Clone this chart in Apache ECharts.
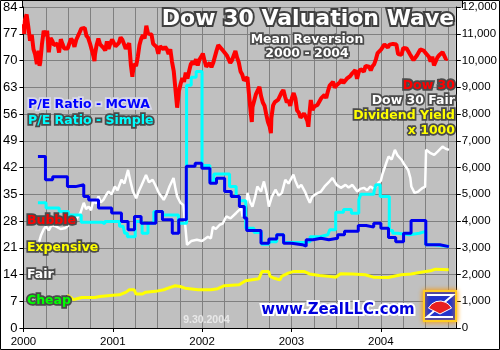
<!DOCTYPE html>
<html><head><meta charset="utf-8">
<script src="https://cdn.jsdelivr.net/npm/echarts@6/dist/echarts.min.js"></script>
<style>html,body{margin:0;padding:0;background:#fff}#c{width:500px;height:350px}</style>
</head><body><div id="c"></div>
<script>
// ---------- DATA ----------
const leftTicks = {min: 0, max: 84, step: 7};
const rightTicks = {min: 0, max: 12000, step: 1000};
const yearLabels = [2000, 2001, 2002, 2003, 2004];

// Dow 30 (weekly closes, read / estimated)
const dow30 = [
['2000-01-03',11357],['2000-01-04',10997],['2000-01-07',11522],['2000-01-14',11723],['2000-01-21',11251],['2000-01-28',10739],
['2000-02-04',10963],['2000-02-11',10425],['2000-02-18',10219],['2000-02-25',9862],
['2000-03-03',10367],['2000-03-07',9796],['2000-03-10',9929],['2000-03-17',10630],['2000-03-24',11112],['2000-03-31',10922],
['2000-04-07',11111],['2000-04-14',10306],['2000-04-21',10844],['2000-04-28',10734],
['2000-05-05',10577],['2000-05-12',10609],['2000-05-19',10627],['2000-05-26',10299],
['2000-06-02',10794],['2000-06-09',10614],['2000-06-16',10449],['2000-06-23',10405],['2000-06-30',10448],
['2000-07-07',10636],['2000-07-14',10812],['2000-07-21',10733],['2000-07-28',10511],
['2000-08-04',10767],['2000-08-11',10908],['2000-08-18',11046],['2000-08-25',11192],
['2000-09-01',11238],['2000-09-08',11220],['2000-09-15',10927],['2000-09-22',10847],['2000-09-29',10651],
['2000-10-06',10596],['2000-10-13',10192],['2000-10-18',9975],['2000-10-20',10226],['2000-10-27',10590],
['2000-11-03',10817],['2000-11-10',10602],['2000-11-17',10630],['2000-11-24',10470],
['2000-12-01',10373],['2000-12-08',10712],['2000-12-15',10434],['2000-12-22',10635],['2000-12-29',10787],
['2001-01-05',10662],['2001-01-12',10525],['2001-01-19',10587],['2001-01-26',10659],
['2001-02-02',10864],['2001-02-09',10781],['2001-02-16',10799],['2001-02-23',10441],
['2001-03-02',10466],['2001-03-09',10644],['2001-03-16',9823],['2001-03-22',9389],['2001-03-23',9504],['2001-03-30',9879],
['2001-04-06',9791],['2001-04-13',10127],['2001-04-20',10579],['2001-04-27',10810],
['2001-05-04',10951],['2001-05-11',10821],['2001-05-18',11301],['2001-05-25',11005],
['2001-06-01',10990],['2001-06-08',10977],['2001-06-15',10623],['2001-06-22',10604],['2001-06-29',10502],
['2001-07-06',10252],['2001-07-13',10539],['2001-07-20',10577],['2001-07-27',10416],
['2001-08-03',10512],['2001-08-10',10416],['2001-08-17',10240],['2001-08-24',10423],['2001-08-31',9950],
['2001-09-07',9606],['2001-09-10',9605],['2001-09-21',8236],['2001-09-28',8848],
['2001-10-05',9120],['2001-10-12',9344],['2001-10-19',9205],['2001-10-26',9545],
['2001-11-02',9324],['2001-11-09',9608],['2001-11-16',9867],['2001-11-23',9960],['2001-11-30',9852],
['2001-12-07',10049],['2001-12-14',9812],['2001-12-21',10036],['2001-12-28',10137],
['2002-01-04',10259],['2002-01-11',9987],['2002-01-18',9771],['2002-01-25',9840],
['2002-02-01',9908],['2002-02-08',9745],['2002-02-15',9903],['2002-02-22',9968],
['2002-03-01',10368],['2002-03-08',10572],['2002-03-15',10607],['2002-03-22',10427],['2002-03-29',10404],
['2002-04-05',10271],['2002-04-12',10190],['2002-04-19',10257],['2002-04-26',9910],
['2002-05-03',10007],['2002-05-10',9939],['2002-05-17',10353],['2002-05-24',10105],['2002-05-31',9925],
['2002-06-07',9589],['2002-06-14',9474],['2002-06-21',9254],['2002-06-28',9243],
['2002-07-05',9380],['2002-07-12',8684],['2002-07-19',8019],['2002-07-23',7702],['2002-07-26',8264],
['2002-08-02',8313],['2002-08-09',8745],['2002-08-16',8778],['2002-08-23',9011],['2002-08-30',8664],
['2002-09-06',8427],['2002-09-13',8312],['2002-09-20',7986],['2002-09-27',7701],
['2002-10-04',7528],['2002-10-09',7286],['2002-10-11',7850],['2002-10-18',8322],['2002-10-25',8444],
['2002-11-01',8517],['2002-11-08',8537],['2002-11-15',8579],['2002-11-22',8805],['2002-11-29',8896],
['2002-12-06',8645],['2002-12-13',8433],['2002-12-20',8511],['2002-12-27',8303],
['2003-01-03',8601],['2003-01-10',8785],['2003-01-17',8587],['2003-01-24',8131],['2003-01-31',8054],
['2003-02-07',7864],['2003-02-14',7909],['2003-02-21',8018],['2003-02-28',7891],
['2003-03-07',7741],['2003-03-11',7524],['2003-03-14',7859],['2003-03-21',8522],['2003-03-28',8145],
['2003-04-04',8277],['2003-04-11',8221],['2003-04-17',8338],['2003-04-25',8306],
['2003-05-02',8583],['2003-05-09',8604],['2003-05-16',8713],['2003-05-23',8602],['2003-05-30',8850],
['2003-06-06',9062],['2003-06-13',9117],['2003-06-20',9200],['2003-06-27',8989],
['2003-07-04',9070],['2003-07-11',9119],['2003-07-18',9188],['2003-07-25',9285],
['2003-08-01',9153],['2003-08-08',9191],['2003-08-15',9321],['2003-08-22',9348],['2003-08-29',9416],
['2003-09-05',9504],['2003-09-12',9471],['2003-09-19',9644],['2003-09-26',9313],
['2003-10-03',9572],['2003-10-10',9674],['2003-10-17',9721],['2003-10-24',9582],['2003-10-31',9801],
['2003-11-07',9810],['2003-11-14',9768],['2003-11-21',9629],['2003-11-28',9782],
['2003-12-05',9862],['2003-12-12',10042],['2003-12-19',10278],['2003-12-26',10305],
['2004-01-02',10409],['2004-01-09',10458],['2004-01-16',10600],['2004-01-23',10568],['2004-01-30',10488],
['2004-02-06',10593],['2004-02-13',10628],['2004-02-20',10620],['2004-02-27',10584],
['2004-03-05',10596],['2004-03-12',10240],['2004-03-19',10186],['2004-03-26',10213],
['2004-04-02',10471],['2004-04-09',10442],['2004-04-16',10452],['2004-04-23',10472],['2004-04-30',10226],
['2004-05-07',10117],['2004-05-14',10013],['2004-05-21',9967],['2004-05-28',10188],
['2004-06-04',10243],['2004-06-11',10410],['2004-06-18',10417],['2004-06-25',10372],
['2004-07-02',10283],['2004-07-09',10213],['2004-07-16',10140],['2004-07-23',9962],['2004-07-30',10140],
['2004-08-06',9815],['2004-08-12',9815],['2004-08-13',9826],['2004-08-20',10110],['2004-08-27',10196],
['2004-09-03',10260],['2004-09-10',10314],['2004-09-17',10284],['2004-09-24',10047],['2004-09-30',10080]
];

// Dow 30 Fair value [decimal year, value]
const dowFair = [
[2000.176,3230],[2000.198,3480],[2000.228,3700],[2000.253,3800],[2000.283,3650],[2000.316,3850],[2000.363,3800],
[2000.415,3700],[2000.473,3740],[2000.525,3900],[2000.583,4040],[2000.638,4300],[2000.675,4680],[2000.701,4450],
[2000.730,4540],[2000.756,4400],[2000.785,4790],[2000.811,4650],[2000.840,4920],[2000.866,4700],[2000.895,4790],
[2000.921,4950],[2000.950,5100],[2000.987,5000],[2001.023,5290],[2001.053,5150],[2001.097,5540],[2001.130,5400],
[2001.171,5910],[2001.196,5500],[2001.226,5100],[2001.262,4850],[2001.290,5100],[2001.317,5300],[2001.372,5720],
[2001.405,5450],[2001.446,5540],[2001.482,5300],[2001.515,5050],[2001.548,4900],[2001.570,4790],[2001.603,5000],
[2001.636,5300],[2001.680,5610],[2001.702,5200],[2001.721,4920],[2001.757,4680],[2001.790,4600],[2001.812,4530],
[2001.831,3110],[2001.878,3250],[2001.941,3300],[2001.999,3250],[2002.065,3410],[2002.098,3350],[2002.120,3780],
[2002.153,3700],[2002.197,3860],[2002.230,3900],[2002.271,4170],[2002.318,4100],[2002.381,4300],[2002.417,4420],
[2002.440,4450],[2002.453,4170],[2002.472,4490],[2002.483,4300],[2002.508,5050],[2002.538,4700],[2002.563,4540],
[2002.593,4900],[2002.618,5290],[2002.659,5100],[2002.692,5480],[2002.725,5000],[2002.747,4540],[2002.780,4900],
[2002.821,5170],[2002.857,4950],[2002.893,5050],[2002.931,5540],[2002.967,5400],[2003.022,5730],[2003.044,5500],
[2003.077,5240],[2003.110,5350],[2003.151,5100],[2003.176,4900],[2003.206,4680],[2003.231,4900],[2003.261,4980],
[2003.297,5050],[2003.330,5100],[2003.371,5290],[2003.418,5450],[2003.457,5610],[2003.506,5350],[2003.553,5240],
[2003.605,5350],[2003.640,5250],[2003.682,5350],[2003.737,5100],[2003.770,5200],[2003.811,5240],[2003.847,5150],
[2003.883,5290],[2003.924,5200],[2003.975,5430],[2004.000,5500],[2004.017,5730],[2004.044,6000],[2004.086,6410],
[2004.122,6300],[2004.158,6660],[2004.188,6450],[2004.232,6290],[2004.265,6100],[2004.306,5910],[2004.331,5600],
[2004.342,5290],[2004.378,5050],[2004.419,5100],[2004.470,5240],[2004.496,5280],[2004.507,6660],[2004.551,6550],
[2004.598,6470],[2004.639,6600],[2004.691,6780],[2004.727,6700],[2004.763,6660]
];

// Dividend yield x 1000
const divYield = [
[2000.488,1220],[2000.525,1150],[2000.561,1060],[2000.653,1140],[2000.800,1140],[2000.855,1180],[2001.001,1220],
[2001.075,1240],[2001.149,1340],[2001.185,1430],[2001.240,1430],[2001.259,1270],[2001.331,1270],[2001.369,1340],
[2001.479,1370],[2001.570,1430],[2001.644,1520],[2001.699,1580],[2001.754,1550],[2001.809,1490],[2001.955,1430],
[2002.101,1430],[2002.175,1470],[2002.249,1580],[2002.414,1620],[2002.486,1770],[2002.505,1840],[2002.634,1840],
[2002.670,2110],[2002.744,2110],[2002.762,1930],[2002.799,1870],[2002.871,1800],[2002.890,1930],[2002.964,2050],
[2003.019,2110],[2003.146,2110],[2003.201,2020],[2003.311,1960],[2003.421,1930],[2003.495,1900],[2003.550,2030],
[2003.679,2020],[2003.825,1990],[2003.916,1900],[2004.081,1890],[2004.229,1990],[2004.339,2020],[2004.466,2090],
[2004.559,2140],[2004.614,2200],[2004.760,2180]
];

// P/E Ratio - MCWA (steps: [start of step, value])
const peMCWA = [
[2000.162,44.9],[2000.246,38.8],[2000.327,39.6],[2000.492,37.0],[2000.583,37.5],[2000.675,34.4],[2000.730,33.5],
[2000.840,31.4],[2000.987,30.1],[2001.097,27.9],[2001.171,25.7],[2001.243,29.2],[2001.317,27.4],[2001.482,30.5],
[2001.556,28.3],[2001.666,24.8],[2001.738,28.3],[2001.823,42.3],[2001.922,43.1],[2001.996,41.8],[2002.087,37.9],
[2002.161,39.2],[2002.252,35.7],[2002.326,34.4],[2002.417,31.8],[2002.472,28.8],[2002.499,25.5],[2002.659,22.2],
[2002.747,23.3],[2002.835,24.4],[2002.912,22.2],[2003.000,21.8],[2003.121,21.4],[2003.165,23.1],[2003.242,23.5],
[2003.330,23.1],[2003.418,23.5],[2003.517,24.4],[2003.594,25.3],[2003.748,26.8],[2003.836,26.4],[2003.921,27.4],
[2004.001,26.1],[2004.086,23.7],[2004.167,22.6],[2004.255,24.8],[2004.339,28.1],[2004.504,21.8],[2004.662,21.3],
[2004.763,21.2]
];

// P/E Ratio - Simple
const peSimple = [
[2000.162,32.8],[2000.253,31.4],[2000.400,30.5],[2000.503,29.6],[2000.646,27.7],[2000.877,27.3],[2000.910,27.9],
[2001.075,26.6],[2001.116,26.1],[2001.133,24.8],[2001.163,23.9],[2001.251,27.9],[2001.328,24.8],[2001.394,27.4],
[2001.460,30.5],[2001.559,29.6],[2001.735,27.4],[2001.826,63.5],[2001.878,65.6],[2001.933,67.1],[2001.999,42.5],
[2002.087,38.5],[2002.131,40.3],[2002.307,37.0],[2002.381,34.4],[2002.417,33.3],[2002.488,26.1],[2002.581,25.0],
[2002.665,21.9],[2002.747,22.6],[2002.835,24.4],[2002.912,22.4],[2003.143,22.6],[2003.209,23.9],[2003.319,24.4],
[2003.407,24.8],[2003.429,25.7],[2003.495,30.3],[2003.583,31.0],[2003.671,30.0],[2003.754,33.5],[2003.776,35.0],
[2003.924,35.7],[2003.946,37.5],[2003.993,34.4],[2004.095,25.5],[2004.133,24.8],[2004.188,24.4],[2004.321,24.8],
[2004.431,25.3],[2004.504,21.8],[2004.595,21.3],[2004.763,21.3]
];

const xRange = {min: 2000, max: 2004.84};

// ---------- HELPERS ----------
function decYear(s) {
  const p = s.split('-').map(Number);
  const a = Date.UTC(p[0], 0, 1), b = Date.UTC(p[0] + 1, 0, 1);
  return p[0] + (Date.UTC(p[0], p[1] - 1, p[2]) - a) / (b - a);
}
const FONT = '"DejaVu Sans", Verdana, sans-serif';
function label(text, x, y, fill, size, align, outline, ow) {
  const base = {
    text: text, x: x, y: y, font: 'bold ' + size + 'px ' + FONT,
    align: align, textAlign: align, verticalAlign: 'middle', textVerticalAlign: 'middle'
  };
  const oc = outline || '#4a4a4a';
  return [
    {type: 'text', z: 100, silent: true,
     style: Object.assign({}, base, {fill: oc, stroke: oc, lineWidth: ow || 3.5, lineJoin: 'round'})},
    {type: 'text', z: 101, silent: true, style: Object.assign({}, base, {fill: fill})}
  ];
}

const chart = echarts.init(document.getElementById('c'), null, {renderer: 'canvas'});
const axisLbl = {color: '#000', fontFamily: '"Liberation Sans", Arial, sans-serif'};

const graphics = [].concat(
  [{type: 'rect', z: -1, silent: true, shape: {x: 22, y: 1, width: 440, height: 6.5}, style: {fill: '#c0c0c0'}},
   {type: 'line', z: 50, silent: true, shape: {x1: 22.5, y1: 1, x2: 22.5, y2: 8}, style: {stroke: '#000', lineWidth: 1}},
   {type: 'line', z: 50, silent: true, shape: {x1: 462.5, y1: 1, x2: 462.5, y2: 8}, style: {stroke: '#000', lineWidth: 1}}],
  label('Dow 30 Valuation Wave', 308, 19, '#ffffff', 22, 'center', '#404040', 4),
  label('Mean Reversion', 307, 40, '#ffffff', 12.5, 'center'),
  label('2000 - 2004', 307, 53.5, '#ffffff', 12.5, 'center'),
  label('Dow 30', 455, 86, '#ff0000', 12.5, 'right'),
  label('Dow 30 Fair', 455, 100.5, '#ffffff', 12.5, 'right'),
  label('Dividend Yield', 455, 116, '#ffff00', 12.5, 'right'),
  label('x 1000', 455, 130.5, '#ffff00', 12.5, 'right'),
  label('P/E Ratio - MCWA', 28, 105, '#0000ff', 12.5, 'left', '#d8d8ec'),
  label('P/E Ratio - Simple', 28, 120.5, '#00ffff', 12.5, 'left'),
  label('Bubble', 27, 220.5, '#ff0000', 12.5, 'left'),
  label('Expensive', 27, 247.5, '#ffff00', 12.5, 'left'),
  label('Fair', 27, 274.5, '#ffffff', 12.5, 'left'),
  label('Cheap', 27, 301, '#00ff00', 12.5, 'left'),
  [{type: 'text', z: 100, silent: true, style: {text: '9.30.2004', x: 206.5, y: 320, fill: '#e8e8e8',
      font: 'bold 10.5px "Liberation Sans", Arial, sans-serif', align: 'center', textAlign: 'center',
      verticalAlign: 'middle', textVerticalAlign: 'middle'}}],
  label('www.ZealLLC.com', 338, 310, '#0000dd', 15, 'center', '#ffffff', 4),
  [
    {type: 'rect', z: 100, silent: true, shape: {x: 424, y: 291, width: 32, height: 30},
     style: {fill: '#2233cc', stroke: '#ffcc22', lineWidth: 2, shadowBlur: 5, shadowColor: '#ff9900'}},
    {type: 'polyline', z: 101, silent: true, shape: {points: [[427, 295], [453, 295], [427, 317], [453, 317]]},
     style: {stroke: '#ffffff', lineWidth: 2, fill: null}},
    {type: 'sector', z: 102, silent: true,
     shape: {cx: 440, cy: 314, r: 13, r0: 0, startAngle: -Math.PI * 0.85, endAngle: -Math.PI * 0.15},
     style: {fill: '#e82020', stroke: '#ffffff', lineWidth: 1}},
    {type: 'rect', z: 200, silent: true, shape: {x: 0.5, y: 0.5, width: 499, height: 349},
     style: {fill: null, stroke: '#000', lineWidth: 1}}
  ]
);

chart.setOption({
  animation: false,
  backgroundColor: '#ffffff',
  grid: {left: 22, right: 38, top: 7, bottom: 22, show: true, backgroundColor: '#c0c0c0', borderWidth: 0},
  xAxis: [
    {type: 'value', min: xRange.min, max: xRange.max, interval: 0.25,
     axisLine: {show: true, onZero: false, lineStyle: {color: '#000', width: 1}},
     axisTick: {show: false}, axisLabel: {show: false},
     splitLine: {show: true, lineStyle: {color: '#808080', width: 1}}},
    {type: 'value', min: xRange.min, max: xRange.max, interval: 1, position: 'bottom',
     axisLine: {show: false}, splitLine: {show: false},
     axisTick: {show: true, length: 4, customValues: yearLabels, lineStyle: {color: '#000'}},
     axisLabel: Object.assign({fontSize: 11.5, margin: 8, customValues: yearLabels,
       formatter: v => String(Math.round(v))}, axisLbl)}
  ],
  yAxis: [
    {type: 'value', min: leftTicks.min, max: leftTicks.max, interval: leftTicks.step, position: 'left',
     axisLine: {show: true, lineStyle: {color: '#000'}},
     axisTick: {show: true, length: 4, lineStyle: {color: '#000'}},
     axisLabel: Object.assign({fontSize: 13, margin: 6}, axisLbl),
     splitLine: {show: true, lineStyle: {color: '#808080', width: 1}}},
    {type: 'value', min: rightTicks.min, max: rightTicks.max, interval: rightTicks.step, position: 'right',
     axisLine: {show: true, lineStyle: {color: '#000'}},
     axisTick: {show: true, length: 5, lineStyle: {color: '#000'}},
     axisLabel: Object.assign({fontSize: 11.5, margin: 6}, axisLbl),
     splitLine: {show: false}}
  ],
  series: [
    {name: 'Dividend Yield x 1000', type: 'line', yAxisIndex: 1, showSymbol: false, z: 2,
     lineStyle: {color: '#ffff00', width: 3}, data: divYield},
    {name: 'Dow 30 Fair', type: 'line', yAxisIndex: 1, showSymbol: false, z: 3,
     lineStyle: {color: '#ffffff', width: 2.5}, data: dowFair},
    {name: 'P/E Ratio - Simple', type: 'line', yAxisIndex: 0, showSymbol: false, step: 'end', z: 4,
     lineStyle: {color: '#00ffff', width: 3}, data: peSimple},
    {name: 'P/E Ratio - MCWA', type: 'line', yAxisIndex: 0, showSymbol: false, step: 'end', z: 5,
     lineStyle: {color: '#0000ee', width: 3}, data: peMCWA},
    {name: 'Dow 30', type: 'line', yAxisIndex: 1, showSymbol: false, z: 6,
     lineStyle: {color: '#ff0000', width: 4}, data: dow30.map(d => [decYear(d[0]), d[1]])}
  ],
  graphic: graphics
});
</script></body></html>
